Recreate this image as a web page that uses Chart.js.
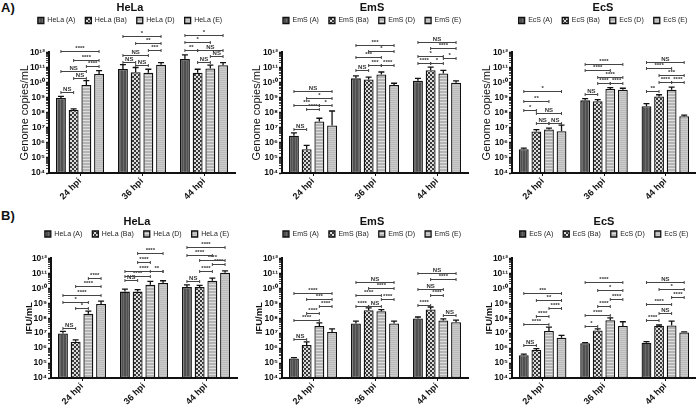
<!DOCTYPE html>
<html>
<head>
<meta charset="utf-8">
<script src="https://cdn.jsdelivr.net/npm/chart.js@4.4.1/dist/chart.umd.min.js"></script>
<style>
  body { margin: 0; background: #fff; width: 696px; height: 406px; position: relative; overflow: hidden; }
  .tag { position: absolute; font: bold 13px 'Liberation Sans', Arial, sans-serif; color: #111; }
</style>
</head>
<body>
<div class="tag" style="left:1px;top:0px">A)</div>
<div class="tag" style="left:1px;top:208px">B)</div>
<script>
const FONT = "'Liberation Sans', Arial, sans-serif";

// categories
const times = ['24 hpi', '36 hpi', '44 hpi'];
const strains = ['A', 'Ba', 'D', 'E'];
const yTickLabels = ['10⁴', '10⁵', '10⁶', '10⁷', '10⁸', '10⁹', '10¹⁰', '10¹¹', '10¹²'];

// values: one row per strain (A, Ba, D, E), one column per time point
const genomeHeLa = [[9.5e8, 8e10, 3.6e11], [1.5e8, 4.8e10, 4.5e10], [7e9, 4.5e10, 8.7e10], [3.7e10, 1.5e11, 1.4e11]];
const genomeHeLaErr = [[1.2e9, 1.55e11, 6.8e11], [1.8e8, 1.0e11, 7.6e10], [1.35e10, 7.6e10, 1.45e11], [6.2e10, 2.1e11, 2.1e11]];
const genomeEmS = [[3e6, 1.9e10, 1.3e10], [3.8e5, 1.6e10, 6.5e10], [2.6e7, 3.4e10, 4e10], [1.4e7, 7e9, 9.8e9]];
const genomeEmSErr = [[4.6e6, 2.8e10, 1.9e10], [6.9e5, 2.3e10, 1.07e11], [4.3e7, 5e10, 6.5e10], [1.3e8, 9e9, 1.3e10]];
const genomeEcS = [[3.8e5, 6.6e8, 2.7e8], [5.6e6, 5.7e8, 1.2e9], [7.6e6, 3.8e9, 3.3e9], [5.9e6, 3.3e9, 5.8e7]];
const genomeEcSErr = [[4.4e5, 8.5e8, 4e8], [7.6e6, 7.3e8, 1.55e9], [9.6e6, 4.6e9, 4.9e9], [1.5e7, 4.2e9, 6.8e7]];
const ifuHeLa = [[9.5e6, 6e9, 1.2e10], [2.7e6, 6e9, 1.2e10], [2e8, 1.7e10, 3.2e10], [9e8, 2.3e10, 1.1e11]];
const ifuHeLaErr = [[1.3e7, 8.9e9, 1.7e10], [3.6e6, 8.1e9, 1.55e10], [3e8, 2.9e10, 4.8e10], [1.4e9, 3.2e10, 1.45e11]];
const ifuEmS = [[2e5, 4.5e7, 9.5e7], [1.6e6, 3.4e8, 3.8e8], [3e7, 2.9e8, 7e7], [1.2e7, 4.4e7, 5.4e7]];
const ifuEmSErr = [[2.3e5, 6.3e7, 1.2e8], [2.6e6, 4.9e8, 5.6e8], [4.9e7, 3.7e8, 9.1e7], [1.95e7, 6.3e7, 7.4e7]];
const ifuEcS = [[3.3e5, 2.1e6, 2.3e6], [7.5e5, 1.5e7, 3e7], [1.4e7, 7.4e7, 3.3e7], [5e6, 3e7, 1.1e7]];
const ifuEcSErr = [[3.9e5, 2.3e6, 2.7e6], [9.3e5, 1.95e7, 3.5e7], [2.5e7, 1.05e8, 6.3e7], [7e6, 5.8e7, 1.2e7]];

// significance brackets: [time index, strain from, strain to, log10 height, label]
const genomeHeLaSig = [
  [0,0,1,9.36,'NS'], [0,1,2,10.3,'NS'], [0,0,2,10.74,'NS'], [0,2,3,11.07,'****'], [0,1,3,11.49,'****'], [0,0,3,12.07,'****'],
  [1,0,1,11.34,'NS'], [1,1,2,11.18,'NS'], [1,0,2,11.82,'NS'], [1,2,3,12.15,'***'], [1,1,3,12.62,'**'], [1,0,3,13.12,'*'],
  [2,0,1,12.15,'**'], [2,1,2,11.38,'NS'], [2,2,3,11.78,'NS'], [2,1,3,12.15,'NS'], [2,0,2,12.66,'*'], [2,0,3,13.17,'*']
];
const genomeEmSSig = [
  [0,0,1,6.92,'NS'], [0,1,2,8.22,'****'], [0,0,2,8.48,'***'], [0,2,3,8.48,'*'], [0,1,3,8.97,'*'], [0,0,3,9.41,'NS'],
  [1,0,1,10.81,'NS'], [1,1,2,11.14,'***'], [1,2,3,11.14,'****'], [1,0,2,11.68,'***'], [1,1,3,12.06,'*'], [1,0,3,12.48,'***'],
  [2,0,1,11.29,'****'], [2,1,2,11.29,'*'], [2,2,3,11.61,'*'], [2,0,2,11.78,'*'], [2,1,3,12.26,'****'], [2,0,3,12.71,'NS']
];
const genomeEcSSig = [
  [0,0,1,8.15,'*'], [0,1,2,7.31,'NS'], [0,2,3,7.31,'NS'], [0,1,3,7.96,'NS'], [0,0,2,8.8,'**'], [0,0,3,9.41,'*'],
  [1,0,1,9.23,'NS'], [1,1,2,9.99,'****'], [1,2,3,9.99,'****'], [1,1,3,10.38,'****'], [1,0,2,10.81,'****'], [1,0,3,11.24,'****'],
  [2,0,1,9.45,'**'], [2,1,2,10.01,'****'], [2,2,3,10.01,'****'], [2,1,3,10.49,'***'], [2,0,2,10.96,'****'], [2,0,3,11.35,'NS']
];
const ifuHeLaSig = [
  [0,0,1,7.37,'NS'], [0,1,2,8.67,'*'], [0,0,2,9.09,'*'], [0,0,3,9.58,'****'], [0,1,3,10.17,'****'], [0,2,3,10.72,'****'],
  [1,0,1,10.57,'NS'], [1,0,2,10.79,'****'], [1,0,3,11.19,'****'], [1,2,3,11.19,'**'], [1,1,2,11.74,'****'], [1,1,3,12.33,'****'],
  [2,0,1,10.52,'NS'], [2,1,2,11.16,'****'], [2,2,3,11.6,'****'], [2,1,3,11.89,'****'], [2,0,2,12.26,'****'], [2,0,3,12.77,'****']
];
const ifuEmSSig = [
  [0,0,1,6.63,'NS'], [0,0,2,7.91,'****'], [0,1,2,8.35,'****'], [0,2,3,8.8,'****'], [0,1,3,9.28,'***'], [0,0,3,9.68,'****'],
  [1,0,1,8.84,'****'], [1,1,2,8.84,'NS'], [1,2,3,9.28,'****'], [1,0,2,9.52,'****'], [1,1,3,10.01,'****'], [1,0,3,10.45,'NS'],
  [2,0,1,8.9,'****'], [2,2,3,8.24,'NS'], [2,1,2,9.57,'****'], [2,0,2,9.94,'NS'], [2,1,3,10.6,'****'], [2,0,3,11.05,'NS']
];
const ifuEcSSig = [
  [0,0,1,6.21,'NS'], [0,0,2,7.58,'****'], [0,1,2,8.13,'****'], [0,2,3,8.69,'****'], [0,1,3,9.19,'**'], [0,0,3,9.68,'***'],
  [1,0,1,7.51,'*'], [1,0,2,8.24,'****'], [1,1,2,8.8,'****'], [1,2,3,9.28,'****'], [1,1,3,9.9,'*'], [1,0,3,10.45,'****'],
  [2,0,1,7.87,'****'], [2,1,2,8.35,'NS'], [2,0,2,8.97,'****'], [2,2,3,9.41,'****'], [2,1,3,9.94,'*'], [2,0,3,10.45,'NS']
];

// bar textures
function makeFill(kind) {
  const c = document.createElement('canvas');
  const g = c.getContext('2d');
  if (kind === 0) {        // dark grey, fine vertical lines
    c.width = 3; c.height = 1;
    g.fillStyle = '#505050'; g.fillRect(0, 0, 3, 1);
    g.fillStyle = '#6c6c6c'; g.fillRect(0, 0, 1, 1);
  } else if (kind === 1) { // checker
    c.width = 4; c.height = 4;
    g.fillStyle = '#dcdcdc'; g.fillRect(0, 0, 4, 4);
    g.fillStyle = '#383838'; g.fillRect(0, 0, 2, 2); g.fillRect(2, 2, 2, 2);
  } else if (kind === 2) { // light grey, horizontal lines
    c.width = 1; c.height = 3;
    g.fillStyle = '#b4b4b4'; g.fillRect(0, 0, 1, 3);
    g.fillStyle = '#dedede'; g.fillRect(0, 0, 1, 1);
  } else {                 // lighter grey, fine horizontal lines
    c.width = 1; c.height = 2;
    g.fillStyle = '#cccccc'; g.fillRect(0, 0, 1, 2);
    g.fillStyle = '#bababa'; g.fillRect(0, 0, 1, 1);
  }
  return g.createPattern(c, 'repeat');
}
const fills = [0, 1, 2, 3].map(makeFill);

function makePanel(p) {
  const cv = document.createElement('canvas');
  cv.width = p.w; cv.height = p.h;
  cv.style.cssText = 'position:absolute;left:' + p.x + 'px;top:' + p.y + 'px;';
  document.body.appendChild(cv);

  const datasets = strains.map((s, i) => ({
    label: p.cell + ' (' + s + ')',
    data: p.values[i],
    backgroundColor: fills[i],
    borderColor: '#111',
    borderWidth: 1.3,
    borderSkipped: false,
    barPercentage: 0.78,
    categoryPercentage: 0.82
  }));

  // fixed legend block height, so the plot sits where the figure has it
  const legendHeight = {
    id: 'legendHeight',
    beforeInit(chart) {
      const fit = chart.legend.fit;
      chart.legend.fit = function () { fit.call(this); this.height = p.legendH; };
    }
  };

  // error bars and significance brackets
  const marks = {
    id: 'marks',
    afterDatasetsDraw(chart) {
      const ctx = chart.ctx, y = chart.scales.y;
      const bar = (d, g) => chart.getDatasetMeta(d).data[g];
      ctx.save();
      ctx.strokeStyle = '#111';
      ctx.lineWidth = 1.3;
      p.errors.forEach((row, d) => row.forEach((v, g) => {
        const b = bar(d, g);
        const yt = y.getPixelForValue(v);
        ctx.beginPath();
        ctx.moveTo(b.x, b.y); ctx.lineTo(b.x, yt);
        ctx.moveTo(b.x - 3, yt); ctx.lineTo(b.x + 3, yt);
        ctx.stroke();
      }));
      ctx.strokeStyle = '#444';
      ctx.lineWidth = 1;
      ctx.fillStyle = '#333';
      ctx.font = 'bold 6px ' + FONT;
      ctx.textAlign = 'center';
      ctx.textBaseline = 'bottom';
      p.sigs.forEach(([g, i, j, e, txt]) => {
        const x1 = bar(i, g).x, x2 = bar(j, g).x;
        const yy = Math.round(y.getPixelForValue(Math.pow(10, e))) + 0.5;
        ctx.beginPath();
        ctx.moveTo(x1, yy); ctx.lineTo(x2, yy);
        ctx.moveTo(x1, yy - 1.5); ctx.lineTo(x1, yy + 1.5);
        ctx.moveTo(x2, yy - 1.5); ctx.lineTo(x2, yy + 1.5);
        ctx.stroke();
        ctx.fillText(txt, (x1 + x2) / 2, yy - 0.5);
      });
      ctx.restore();
    }
  };

  return new Chart(cv, {
    type: 'bar',
    data: { labels: times, datasets: datasets },
    options: {
      responsive: false,
      animation: false,
      devicePixelRatio: 1,
      layout: { padding: 0 },
      plugins: {
        title: {
          display: true, text: p.cell, color: '#111',
          font: { family: FONT, size: 11, weight: 'bold' },
          padding: { top: p.tTop, bottom: p.tBot }
        },
        legend: {
          labels: { boxWidth: 6, boxHeight: 6, color: '#222', padding: 10, font: { family: FONT, size: 7 } }
        },
        tooltip: { enabled: false }
      },
      scales: {
        x: {
          border: { color: '#111', width: 2 },
          grid: { drawOnChartArea: false, offset: false, tickLength: 3, color: '#111' },
          ticks: { color: '#111', maxRotation: 45, minRotation: 45, padding: 0, font: { family: FONT, size: 9, weight: 'bold' } },
          afterFit(s) { s.height = p.xH; }
        },
        y: {
          type: 'logarithmic', min: 1e4, max: 1e12,
          border: { color: '#111', width: 2 },
          grid: { drawOnChartArea: false, tickLength: 3, color: '#111', tickWidth: c => (c.tick && c.tick.major ? 1.5 : 0.8) },
          ticks: {
            autoSkip: false, color: '#111', padding: 1,
            font: { family: FONT, size: 8.5, weight: 'bold' },
            callback: v => {
              const e = Math.round(Math.log10(v));
              return Math.abs(Math.log10(v) - e) < 1e-9 ? yTickLabels[e - 4] : '';
            }
          },
          afterBuildTicks(s) {
            const t = [];
            for (let e = 4; e < 12; e++) for (let m = 1; m < 10; m++) t.push({ value: m * Math.pow(10, e), major: m === 1 });
            t.push({ value: 1e12, major: true });
            s.ticks = t;
          },
          afterFit(s) { s.width = p.yW; },
          title: {
            display: true, text: p.yTitle, color: '#111',
            font: { family: FONT, size: p.ytSize, weight: p.ytWeight },
            padding: { top: p.ytPad, bottom: 0 }
          }
        },
        // empty spacer on the right, only used to centre title and legend like the figure
        spacer: {
          type: 'linear', position: 'right', display: true,
          grid: { display: false }, border: { display: false }, ticks: { display: false },
          afterFit(s) { s.width = p.spW; }
        }
      }
    },
    plugins: [legendHeight, marks]
  });
}

const rowA = { y: 0, h: 200, tTop: 1.5, tBot: -7.7, legendH: 45.4, xH: 27, yTitle: 'Genome copies/mL', ytSize: 11, ytWeight: 'normal', ytPad: 18.4 };
const rowB = { y: 200, h: 206, tTop: 15.5, tBot: -8.2, legendH: 37.9, xH: 28, yTitle: 'IFU/mL', ytSize: 9.5, ytWeight: 'bold', ytPad: 21.8 };

makePanel(Object.assign({}, rowA, { cell: 'HeLa', x: 0, w: 260, yW: 49, spW: 25, values: genomeHeLa, errors: genomeHeLaErr, sigs: genomeHeLaSig }));
makePanel(Object.assign({}, rowA, { cell: 'EmS', x: 232, w: 280, yW: 50, spW: 44, values: genomeEmS, errors: genomeEmSErr, sigs: genomeEmSSig }));
makePanel(Object.assign({}, rowA, { cell: 'EcS', x: 462, w: 282, yW: 50, spW: 48, values: genomeEcS, errors: genomeEcSErr, sigs: genomeEcSSig }));
makePanel(Object.assign({}, rowB, { cell: 'HeLa', x: 0, w: 274, yW: 51, spW: 37, ytPad: 23.3, values: ifuHeLa, errors: ifuHeLaErr, sigs: ifuHeLaSig }));
makePanel(Object.assign({}, rowB, { cell: 'EmS', x: 232, w: 280, yW: 50, spW: 44, values: ifuEmS, errors: ifuEmSErr, sigs: ifuEmSSig }));
makePanel(Object.assign({}, rowB, { cell: 'EcS', x: 462, w: 284, yW: 50, spW: 50, values: ifuEcS, errors: ifuEcSErr, sigs: ifuEcSSig }));
</script>
</body>
</html>
